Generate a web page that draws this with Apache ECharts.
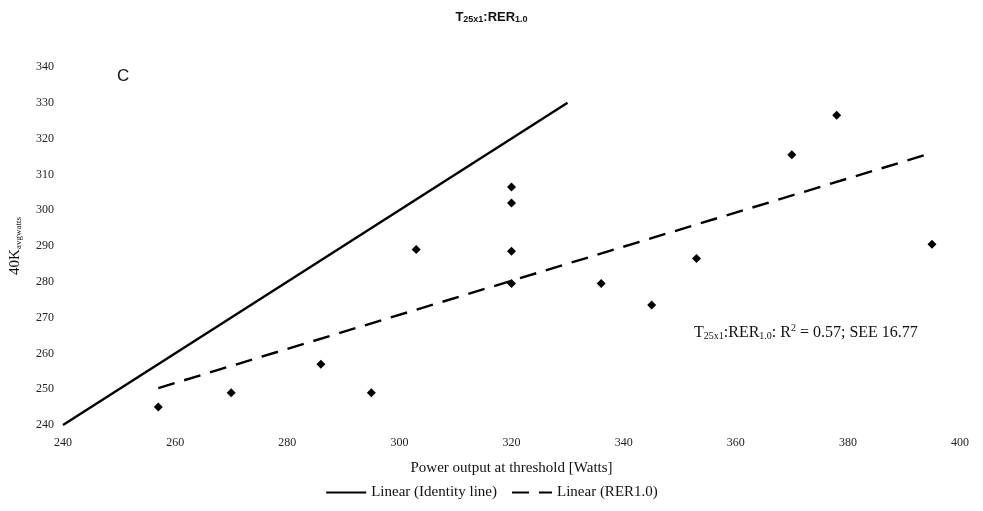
<!DOCTYPE html>
<html><head><meta charset="utf-8">
<script src="https://cdn.jsdelivr.net/npm/echarts@6/dist/echarts.min.js"></script>
<style>html,body{margin:0;padding:0;background:#fff}#c{width:983px;height:511px}</style>
</head><body><div id="c"></div>
<script>
// Observed data: power at threshold (x) vs 40K avg watts (y)
const pointX = [257, 270, 286, 295, 303, 320, 320, 320, 320, 336, 345, 353, 370, 378, 395];
const pointY = [245, 249, 257, 249, 289, 306.5, 302, 288.5, 279.5, 279.5, 273.5, 286.5, 315.5, 326.5, 290.5];
// Identity line endpoints
const identityX = [240, 330];
const identityY = [240, 330];
// Linear trend (RER1.0) endpoints
const trendX = [257, 395];
const trendY = [250.3, 316];
const xTicks = [240, 260, 280, 300, 320, 340, 360, 380, 400];
const yTicks = [240, 250, 260, 270, 280, 290, 300, 310, 320, 330, 340];

const serif = 'Liberation Serif';
const sans = 'Liberation Sans';
const chart = echarts.init(document.getElementById('c'));
const zip = (a, b) => a.map((v, i) => [v, b[i]]);

chart.setOption({
  animation: false,
  backgroundColor: '#fff',
  title: {
    text: '{b|T}{s|25x1}{b|:RER}{s|1.0}',
    left: 'center', top: 5,
    textStyle: {
      rich: {
        b: {fontFamily: sans, fontWeight: 'bold', fontSize: 13, color: '#111', verticalAlign: 'bottom'},
        s: {fontFamily: sans, fontWeight: 'bold', fontSize: 9, color: '#111', verticalAlign: 'bottom', padding: [5, 0, 0, 0]}
      }
    }
  },
  grid: {left: 62, right: 23, top: 67, bottom: 86, containLabel: false},
  xAxis: {
    type: 'value', min: xTicks[0], max: xTicks[xTicks.length - 1], interval: 20,
    axisLine: {show: false}, axisTick: {show: false}, splitLine: {show: false},
    axisLabel: {fontFamily: serif, fontSize: 12, color: '#222', margin: 12},
    name: 'Power output at threshold [Watts]', nameLocation: 'middle', nameGap: 36,
    nameTextStyle: {fontFamily: serif, fontSize: 15, color: '#111'}
  },
  yAxis: {
    type: 'value', min: yTicks[0], max: yTicks[yTicks.length - 1], interval: 10,
    axisLine: {show: false}, axisTick: {show: false}, splitLine: {show: false},
    axisLabel: {fontFamily: serif, fontSize: 12, color: '#222', margin: 9},
    name: '{n|40K}{s|avgwatts}', nameLocation: 'middle', nameGap: 40, nameRotate: 90,
    nameTextStyle: {
      rich: {
        n: {fontFamily: serif, fontSize: 15, color: '#111', verticalAlign: 'bottom'},
        s: {fontFamily: serif, fontSize: 9, color: '#111', verticalAlign: 'bottom', padding: [5, 0, 0, 0]}
      }
    }
  },
  legend: {
    bottom: 6, left: 'center', itemWidth: 40, itemHeight: 12, itemGap: 14,
    data: ['Linear (Identity line)', 'Linear (RER1.0)'],
    itemStyle: {opacity: 0},
    textStyle: {fontFamily: serif, fontSize: 15, color: '#111'}
  },
  graphic: [
    {type: 'text', left: 117, top: 68, style: {text: 'C', font: '17px "Liberation Sans"', fill: '#111'}},
    {type: 'text', left: 694, top: 323,
      style: {
        text: '{n|T}{s|25x1}{n|:RER}{s|1.0}{n|: R}{p|2}{n| = 0.57; SEE 16.77}',
        rich: {
          n: {fontFamily: serif, fontSize: 16, fill: '#111', verticalAlign: 'bottom'},
          s: {fontFamily: serif, fontSize: 10, fill: '#111', verticalAlign: 'bottom', padding: [6, 0, 0, 0]},
          p: {fontFamily: serif, fontSize: 10, fill: '#111', verticalAlign: 'top', padding: [0, 0, 8, 0]}
        }
      }
    }
  ],
  series: [
    {
      name: 'Linear (Identity line)', type: 'line', symbol: 'none',
      lineStyle: {color: '#000', width: 2.4, type: 'solid'},
      itemStyle: {color: '#000'},
      data: zip(identityX, identityY)
    },
    {
      name: 'Linear (RER1.0)', type: 'line', symbol: 'none',
      lineStyle: {color: '#000', width: 2.4, type: [17, 10]},
      itemStyle: {color: '#000'},
      data: zip(trendX, trendY)
    },
    {
      name: 'Observed', type: 'scatter', symbol: 'diamond', symbolSize: 9,
      itemStyle: {color: '#000', opacity: 1},
      data: zip(pointX, pointY)
    }
  ]
});
</script></body></html>
